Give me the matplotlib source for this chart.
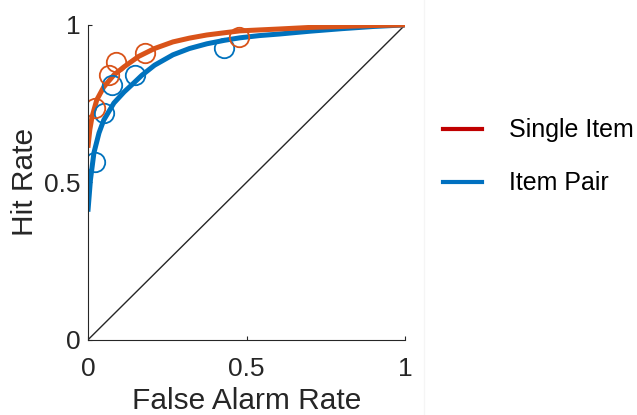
import matplotlib.pyplot as plt
from matplotlib.lines import Line2D

plt.rcParams['font.family'] = ['Liberation Sans', 'DejaVu Sans']

# Observed ROC points (false alarm rate, hit rate)
single_fa = [0.023, 0.066, 0.087, 0.180, 0.475]
single_hit = [0.737, 0.841, 0.883, 0.910, 0.963]
pair_fa = [0.023, 0.050, 0.076, 0.150, 0.428]
pair_hit = [0.566, 0.720, 0.810, 0.841, 0.926]

# Fitted ROC curves
single_curve_fa = [0.0, 0.006, 0.013, 0.028, 0.05, 0.082, 0.114, 0.16, 0.21, 0.268,
                   0.32, 0.375, 0.43, 0.479, 0.54, 0.603, 0.7, 0.8, 0.9, 1.0]
single_curve_hit = [0.61, 0.667, 0.708, 0.762, 0.803, 0.841, 0.867, 0.900, 0.925, 0.946,
                    0.958, 0.968, 0.975, 0.981, 0.984, 0.987, 0.992, 0.995, 0.998, 1.0]
pair_curve_fa = [0.0, 0.008, 0.019, 0.035, 0.05, 0.082, 0.114, 0.145, 0.17, 0.21, 0.268,
                 0.32, 0.375, 0.43, 0.479, 0.54, 0.603, 0.7, 0.8, 0.9, 1.0]
pair_curve_hit = [0.407, 0.508, 0.594, 0.657, 0.698, 0.752, 0.787, 0.816, 0.840, 0.872, 0.905,
                  0.925, 0.940, 0.951, 0.959, 0.966, 0.971, 0.980, 0.988, 0.995, 1.0]

orange = '#D95319'
blue = '#0072BD'
dark = '#262626'

fig = plt.figure(figsize=(6.37, 4.15), dpi=100)
ax = fig.add_axes([0.138, 0.181, 0.498, 0.759])

ax.plot([0, 1], [0, 1], color=dark, lw=1.0)
ax.plot(pair_curve_fa, pair_curve_hit, color=blue, lw=3.6,
        solid_capstyle='butt', solid_joinstyle='round')
ax.plot(single_curve_fa, single_curve_hit, color=orange, lw=3.6,
        solid_capstyle='butt', solid_joinstyle='round')
ax.plot(pair_fa, pair_hit, 'o', mfc='none', mec=blue, ms=14, mew=1.3)
ax.plot(single_fa, single_hit, 'o', mfc='none', mec=orange, ms=14, mew=1.3)

ax.set_xlim(0, 1)
ax.set_ylim(0, 1)
ax.set_xticks([0, 0.5, 1])
ax.set_xticklabels(['0', '0.5', '1'])
ax.set_yticks([0, 0.5, 1])
ax.set_yticklabels(['0', '0.5', '1'])
ax.tick_params(direction='in', length=3, width=0.8, labelsize=19, colors=dark)
ax.tick_params(axis='x', pad=12)
ax.tick_params(axis='y', pad=5)
for s in ['top', 'right']:
    ax.spines[s].set_visible(False)
for s in ['left', 'bottom']:
    ax.spines[s].set_color(dark)
    ax.spines[s].set_linewidth(0.8)
ax.set_xlabel('False Alarm Rate', fontsize=21.5, color=dark, labelpad=4.5)
ax.set_ylabel('Hit Rate', fontsize=21.5, color=dark, labelpad=4)

# faint separator between plot and legend panel
fig.add_artist(Line2D([0.666, 0.666], [0, 1], color='#f5f5f5', lw=1.0))

handles = [Line2D([], [], color='#C00000', lw=3), Line2D([], [], color='#0070C0', lw=3)]
fig.legend(handles, ['Single Item', 'Item Pair'], loc='center left',
           bbox_to_anchor=(0.695, 0.622), frameon=False, fontsize=18,
           borderpad=0, borderaxespad=0,
           handlelength=1.56, handletextpad=1.1, labelspacing=1.16)

fig.savefig('out.png', dpi=100)
